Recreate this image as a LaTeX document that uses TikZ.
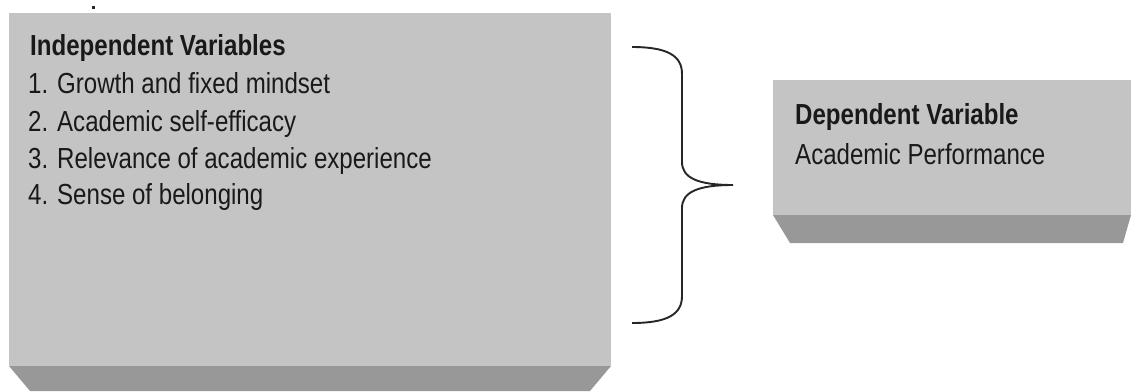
\documentclass[tikz,border=0pt]{standalone}
\usepackage{fontspec}
\setmainfont{Liberation Sans}[FakeStretch=0.83]
\begin{document}
\begin{tikzpicture}[x=1pt,y=-1pt,
  face/.style={fill=facegray,draw=none},
  bevel/.style={fill=bevelgray,draw=none},
  lbl/.style={anchor=base west,inner sep=0pt,text=black!90,font=\fontsize{29}{34}\selectfont},
  ttl/.style={lbl,font=\fontsize{29}{34}\selectfont\bfseries},
  bracestyle/.style={draw=black!85,line width=1.9pt}]
\definecolor{facegray}{HTML}{C4C4C4}
\definecolor{bevelgray}{HTML}{989898}
\useasboundingbox (0,0) rectangle (1131,391);
% small mark
\fill[black!85] (92,6) rectangle (95,9);
% left box
\path[face] (9,13) rectangle (611,366);
\path[bevel] (9,366) -- (611,366) -- (590,391) -- (30,391) -- cycle;
% right box
\path[face] (773,80) rectangle (1131,215);
\path[bevel] (773,215) -- (1131,215) -- (1123,243) -- (790,243) -- cycle;
% texts
\node[ttl] (iv) at (30,55) {Independent Variables};
\node[lbl] (i1) at (28,93) {1. Growth and fixed mindset};
\node[lbl] (i2) at (28,131) {2. Academic self-efficacy};
\node[lbl] (i3) at (28,168) {3. Relevance of academic experience};
\node[lbl] (i4) at (28,204) {4. Sense of belonging};
\node[ttl] (dv) at (795,124) {Dependent Variable};
\node[lbl] (d1) at (795,164) {Academic Performance};
% brace
\coordinate (bt) at (632,47);
\coordinate (bm) at (733,185);
\coordinate (bb) at (632,323);
\draw[bracestyle] (bt) .. controls (668,47) and (682,56) .. (682,74)
  -- (682,162) .. controls (682,178) and (698,185) .. (bm)
  .. controls (698,185) and (682,192) .. (682,208)
  -- (682,296) .. controls (682,314) and (668,323) .. (bb);
\end{tikzpicture}
\end{document}
